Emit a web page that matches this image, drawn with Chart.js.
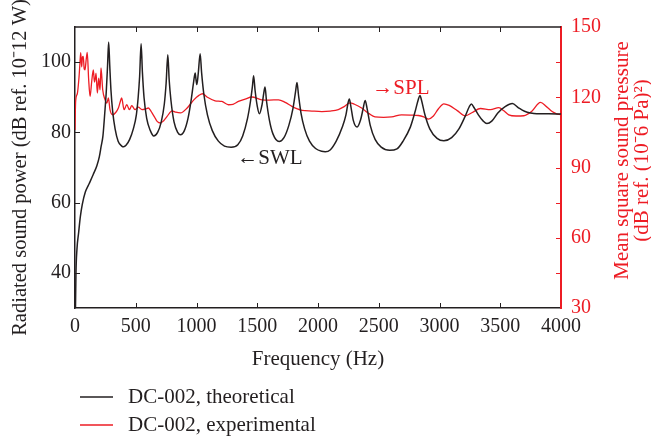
<!DOCTYPE html>
<html lang="en">

  <head>
    <meta charset="UTF-8">
    <meta name="viewport" content="width=device-width, initial-scale=1.0">
    <title>DC-002 SWL / SPL</title>
    <script src="https://cdn.jsdelivr.net/npm/chart.js"></script>
    <style>
      html, body {
        margin: 0;
        padding: 0;
        background: #fff;
      }
      .chart-container {
        width: 651px;
        height: 441px;
      }
    </style>
  </head>

  <body>
    <div class="chart-container">
      <canvas id="swlChart"></canvas>
    </div>

    <script>
      // theoretical radiated sound power (left axis, dB)
      const swlFreq = [
        4, 8, 16, 30, 44, 60, 85, 118, 150, 180,
        200, 215, 230, 245, 258, 268, 277, 286, 296, 310,
        330, 355, 385, 400, 420, 450, 480, 505, 520, 532,
        544, 555, 568, 590, 620, 648, 680, 710, 735, 750,
        764, 775, 790, 815, 845, 868, 900, 930, 955, 975,
        989, 996, 1003, 1015, 1030, 1042, 1060, 1090, 1130, 1180,
        1230, 1285, 1340, 1380, 1420, 1445, 1460, 1470, 1482, 1500,
        1518, 1540, 1553, 1564, 1576, 1600, 1630, 1680, 1720, 1760,
        1795, 1815, 1827, 1840, 1860, 1890, 1930, 1980, 2030, 2060,
        2100, 2150, 2200, 2230, 2248, 2258, 2270, 2290, 2322, 2350,
        2370, 2388, 2403, 2430, 2470, 2520, 2590, 2650, 2700, 2760,
        2800, 2825, 2839, 2853, 2880, 2920, 2980, 3036, 3100, 3160,
        3210, 3245, 3262, 3285, 3320, 3360, 3390, 3430, 3480, 3540,
        3600, 3650, 3700, 3750, 3800, 3900, 4000
      ];
      const swlLevel = [
        30, 40, 46.7, 51.5, 56, 59.5, 63, 65.5, 68, 70.5,
        73, 76, 79, 85.5, 92, 99, 105.7, 99, 92, 86,
        81, 77.5, 76.1, 75.9, 76.3, 78, 81, 85, 90, 96,
        105.2, 97, 90, 84, 80.5, 79, 80, 83, 88, 94,
        102.1, 95, 89, 83, 80, 79.3, 80.5, 84, 89, 94,
        96.9, 95, 93.6, 97, 102.4, 97, 91, 85, 80.5, 77.5,
        76.1, 75.8, 76.5, 79, 84, 89, 93, 96.1, 92, 87.5,
        85.3, 88, 91, 92.9, 89, 83.5, 79.5, 77.4, 78.5, 82,
        87, 91.5, 94.2, 90.5, 85.5, 81, 77.5, 75.4, 74.6, 74.5,
        75, 77.5, 81.5, 85, 88.5, 89.5, 87.5, 83.5, 81.5, 83.5,
        86.5, 89.1, 87, 82, 78, 75.8, 74.9, 75.3, 77.5, 81.5,
        86, 89.3, 90.5, 89, 85, 81, 78.3, 77.6, 78.5, 81,
        84.5, 87.3, 88.1, 87, 85, 83.2, 82.5, 83.2, 85.5, 87.3,
        88.2, 87, 86, 85.5, 85.3, 85.3, 85.2
      ];

      // experimental mean square sound pressure (right axis, dB)
      const splFreq = [
        0, 5, 19, 33, 40, 47, 55, 61, 68, 76,
        82, 92, 101, 112, 124, 138, 151, 160, 167, 173,
        184, 195, 206, 214, 228, 247, 262, 275, 288, 310,
        335, 357, 372, 384, 404, 426, 448, 467, 494, 520,
        552, 580, 604, 620, 634, 655, 676, 703, 730, 758,
        799, 830, 868, 923, 978, 1020, 1050, 1090, 1153, 1208,
        1263, 1300, 1345, 1400, 1456, 1538, 1600, 1675, 1730, 1785,
        1830, 1868, 1950, 2032, 2100, 2167, 2215, 2263, 2300, 2359,
        2420, 2469, 2540, 2606, 2688, 2760, 2826, 2870, 2908, 2950,
        2990, 3036, 3080, 3146, 3213, 3270, 3337, 3419, 3488, 3530,
        3570, 3630, 3694, 3760, 3831, 3880, 3927, 3960, 4000
      ];
      const splLevel = [
        106, 118, 121.5, 128.5, 134, 139, 133, 137, 137.4, 132,
        131.7, 136, 139.1, 128, 120.4, 127, 131.7, 126.5, 128, 130.3,
        121.8, 128.2, 123.2, 132.5, 123.2, 119, 117.5, 119.7, 114.7, 112.5,
        113.5, 115.4, 118, 119.7, 114.7, 116.8, 114.7, 116.4, 114.7, 115.8,
        114.7, 115, 115.4, 114.5, 113.3, 111.5, 109.7, 109, 110, 111.8,
        114.2, 113.6, 113.3, 115.4, 118.9, 120.8, 121.5, 120, 118.5, 118.2,
        116.8, 117, 118.2, 119.2, 120.1, 118.9, 118.8, 118.9, 117.8, 116.1,
        115, 114.4, 114.1, 113.9, 114.1, 114.7, 116, 117.6, 117, 115.4,
        113, 111.6, 111.4, 111.6, 112.5, 112.4, 112.2, 111.6, 110.7, 112,
        115, 117.2, 116.5, 114.3, 112.1, 113.5, 115.2, 114.7, 115.6, 114.2,
        112.5, 112, 112.1, 114, 117.8, 116, 113.9, 113, 112.5
      ];

      const freqTicks = [0, 500, 1000, 1500, 2000, 2500, 3000, 3500, 4000];
      const swlTicks = [40, 60, 80, 100];
      const splTicks = [30, 60, 90, 120, 150];
      const splMinorTicks = [45, 60, 75, 90, 105, 120, 135];

      const ink = '#231f20';
      const red = '#ed1c24';
      const serif = "'Liberation Serif', 'Times New Roman', serif";
      const plain = v => String(v);

      // frame top, inward ticks, right title, notes and legend
      const frameAndNotes = {
        id: 'frameAndNotes',
        afterDraw(chart) {
          const { ctx, chartArea: a, scales } = chart;
          const x = scales.x, y = scales.y, y1 = scales.y1;
          ctx.save();

          ctx.strokeStyle = ink;
          ctx.lineWidth = 1.5;
          ctx.beginPath();
          ctx.moveTo(a.left, a.top);
          ctx.lineTo(a.right, a.top);
          ctx.stroke();

          ctx.lineWidth = 1;
          ctx.beginPath();
          freqTicks.slice(1, -1).forEach(f => {
            const px = Math.round(x.getPixelForValue(f)) + 0.5;
            ctx.moveTo(px, a.bottom);
            ctx.lineTo(px, a.bottom - 5);
            ctx.moveTo(px, a.top);
            ctx.lineTo(px, a.top + 5);
          });
          swlTicks.forEach(v => {
            const py = Math.round(y.getPixelForValue(v)) + 0.5;
            ctx.moveTo(a.left, py);
            ctx.lineTo(a.left + 5, py);
          });
          ctx.stroke();

          ctx.strokeStyle = red;
          ctx.beginPath();
          splMinorTicks.forEach(v => {
            const py = Math.round(y1.getPixelForValue(v)) + 0.5;
            ctx.moveTo(a.right, py);
            ctx.lineTo(a.right - 5, py);
          });
          ctx.stroke();

          // right axis title, reading upwards
          ctx.fillStyle = red;
          ctx.font = `21px ${serif}`;
          ctx.textAlign = 'center';
          ctx.textBaseline = 'middle';
          const midY = (a.top + a.bottom) / 2 - 7;
          ctx.save();
          ctx.translate(a.right + 61, midY);
          ctx.rotate(-Math.PI / 2);
          ctx.fillText('Mean square sound pressure', 0, 0);
          ctx.restore();
          ctx.save();
          ctx.translate(a.right + 81, midY);
          ctx.rotate(-Math.PI / 2);
          ctx.fillText('(dB ref. (10\u207B6 Pa)\u00B2)', 0, 0);
          ctx.restore();

          // curve notes
          ctx.textAlign = 'left';
          ctx.fillStyle = ink;
          ctx.fillText('\u2190SWL', x.getPixelForValue(1335), y.getPixelForValue(72.7));
          ctx.fillStyle = red;
          ctx.fillText('\u2192SPL', x.getPixelForValue(2447), y1.getPixelForValue(123.6));

          // legend below the axes
          chart.data.datasets.forEach((ds, i) => {
            const ly = a.bottom + 89 + i * 28;
            ctx.strokeStyle = ds.borderColor;
            ctx.lineWidth = 1.3;
            ctx.beginPath();
            ctx.moveTo(80, ly);
            ctx.lineTo(113, ly);
            ctx.stroke();
            ctx.fillStyle = ink;
            ctx.fillText(ds.label, 128, ly);
          });

          ctx.restore();
        }
      };

      const ctx = document.getElementById('swlChart').getContext('2d');
      new Chart(ctx, {
        type: 'line',
        data: {
          datasets: [
            {
              label: 'DC-002, theoretical',
              data: swlFreq.map((f, i) => ({ x: f, y: swlLevel[i] })),
              yAxisID: 'y',
              borderColor: ink,
              borderWidth: 1.5,
              pointRadius: 0,
              cubicInterpolationMode: 'monotone'
            },
            {
              label: 'DC-002, experimental',
              data: splFreq.map((f, i) => ({ x: f, y: splLevel[i] })),
              yAxisID: 'y1',
              borderColor: red,
              borderWidth: 1.3,
              pointRadius: 0,
              cubicInterpolationMode: 'monotone'
            }
          ]
        },
        options: {
          responsive: true,
          maintainAspectRatio: false,
          animation: false,
          layout: {
            padding: { top: 27, bottom: 69, left: 0, right: 0 }
          },
          plugins: {
            legend: { display: false },
            tooltip: { enabled: false }
          },
          scales: {
            x: {
              type: 'linear',
              min: 0,
              max: 4000,
              afterBuildTicks: s => { s.ticks = freqTicks.map(v => ({ value: v })); },
              afterFit: s => { s.height = 64; },
              ticks: {
                color: ink,
                font: { family: serif, size: 20 },
                padding: 7,
                maxRotation: 0,
                callback: plain
              },
              grid: { display: false, drawTicks: false },
              border: { color: ink, width: 1.5 },
              title: {
                display: true,
                text: 'Frequency (Hz)',
                color: ink,
                font: { family: serif, size: 21 },
                padding: { top: 0, bottom: 0 }
              }
            },
            y: {
              position: 'left',
              min: 30,
              max: 110,
              afterBuildTicks: s => { s.ticks = swlTicks.map(v => ({ value: v })); },
              afterFit: s => { s.width = 75; },
              ticks: {
                color: ink,
                font: { family: serif, size: 20 },
                padding: 4,
                callback: plain
              },
              grid: { display: false, drawTicks: false },
              border: { color: ink, width: 1.5 },
              title: {
                display: true,
                text: 'Radiated sound power (dB ref. 10\u207B12 W)',
                color: ink,
                font: { family: serif, size: 20.5 },
                padding: { top: 8, bottom: 0 }
              }
            },
            y1: {
              position: 'right',
              min: 30,
              max: 150,
              afterBuildTicks: s => { s.ticks = splTicks.map(v => ({ value: v })); },
              afterFit: s => { s.width = 90; },
              ticks: {
                color: red,
                font: { family: serif, size: 20 },
                padding: 10,
                callback: plain
              },
              grid: { display: false, drawTicks: false },
              border: { color: red, width: 2 }
            }
          }
        },
        plugins: [frameAndNotes]
      });
    </script>
  </body>

</html>
